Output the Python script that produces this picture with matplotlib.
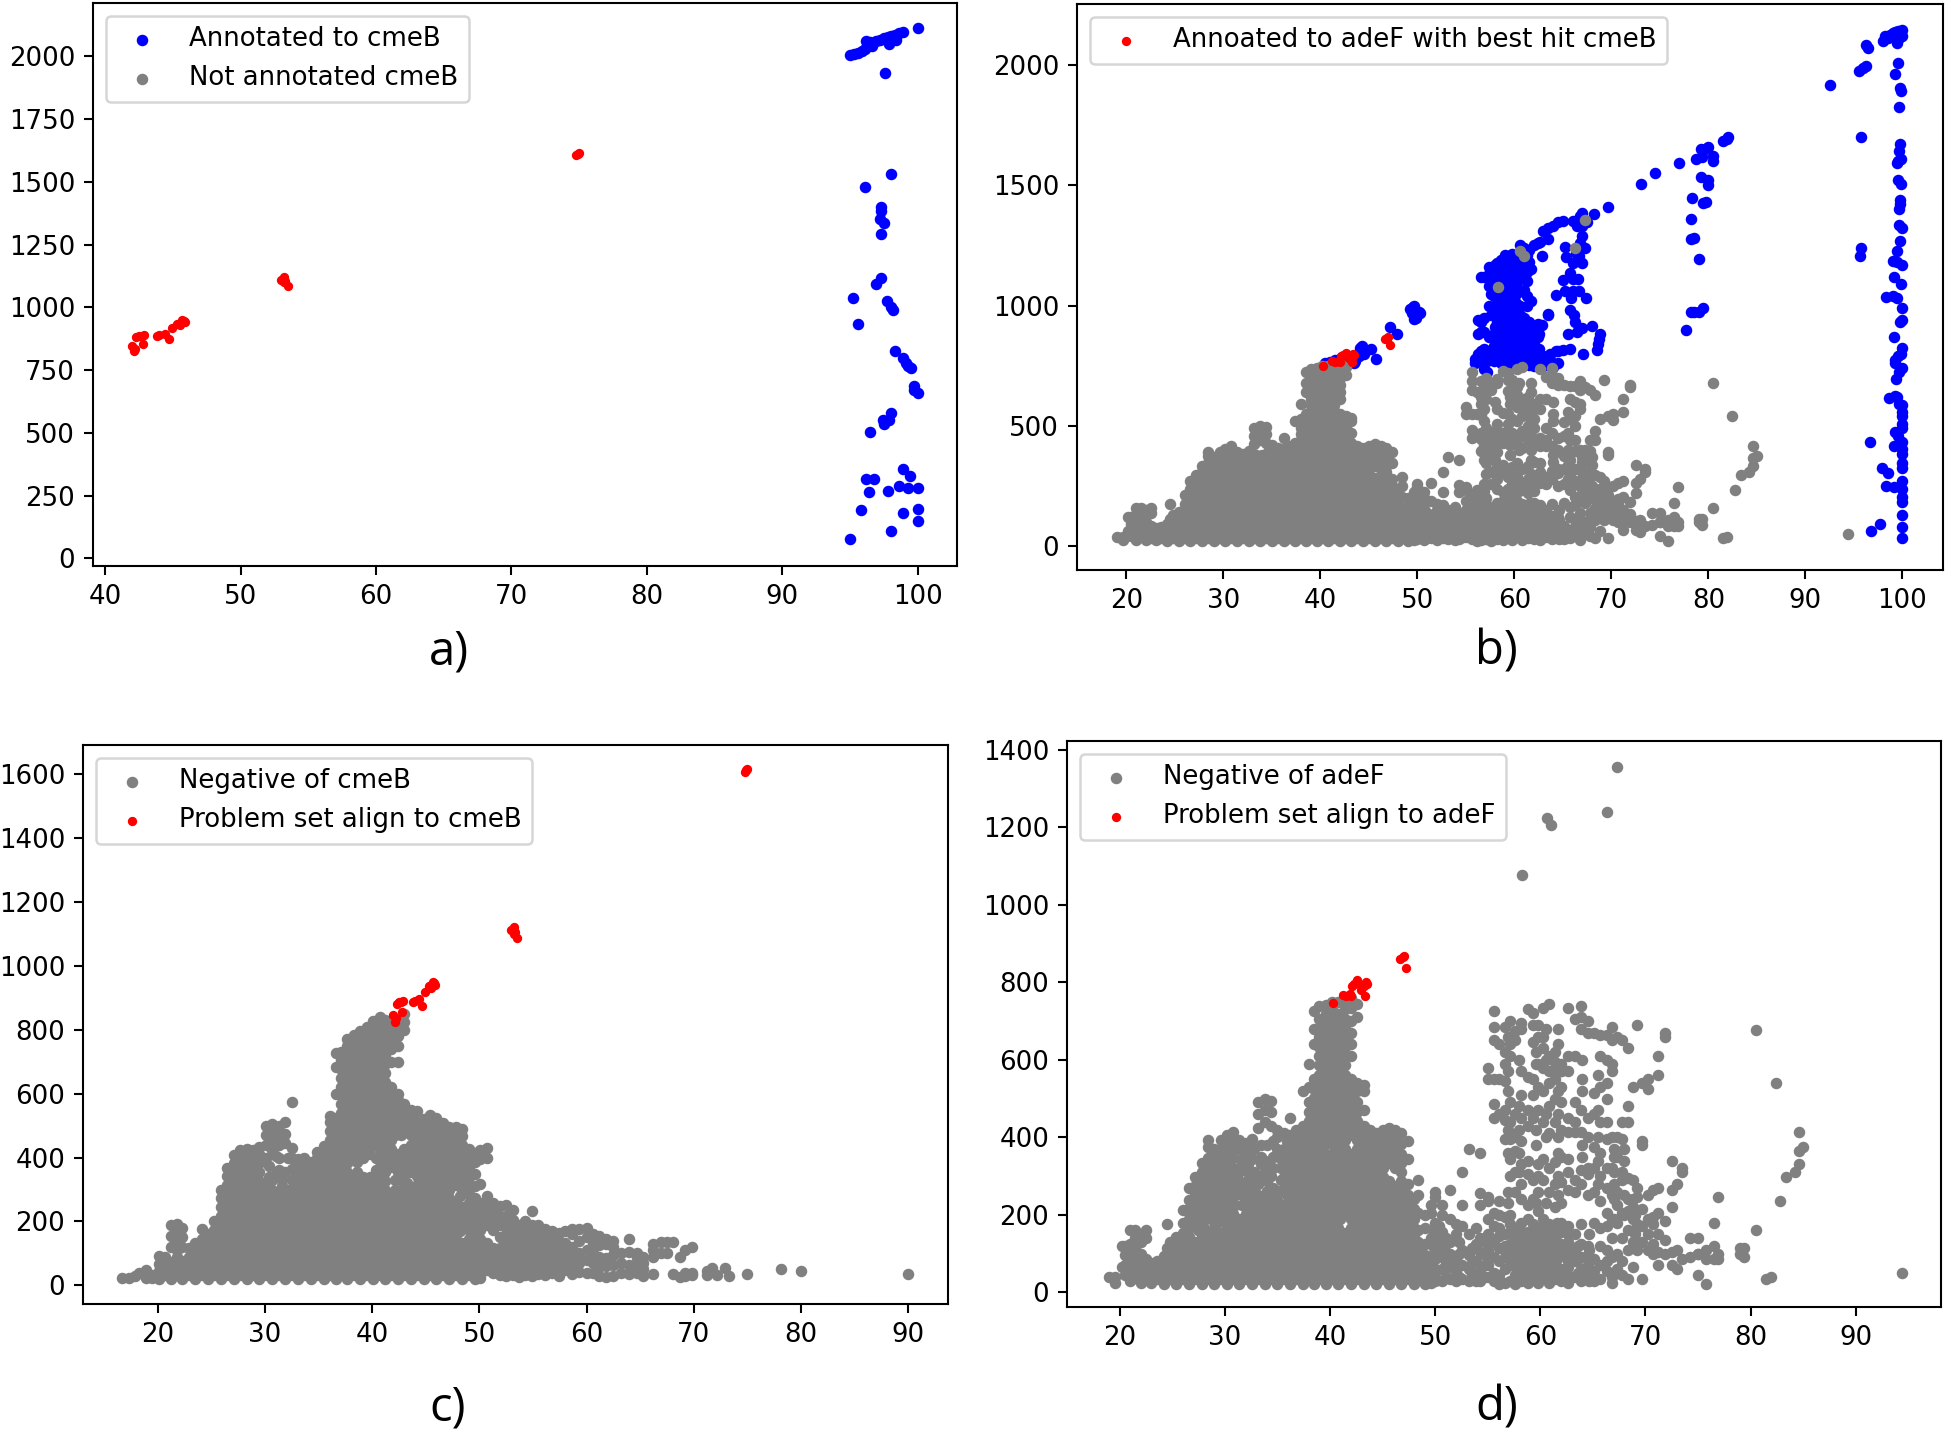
import matplotlib
matplotlib.use("Agg")
import matplotlib.pyplot as plt

# ---------- red points ----------
problem_cmeB_x = [42, 42.1, 42.2, 42.3, 42.5, 42.7, 42.9, 42.8, 43.8, 44, 44.4, 44.7, 44.9, 45.3, 45.5, 45.7, 45.9, 45.8, 53, 53.2, 53.2, 53.3, 53.5, 74.8, 74.9, 75]
problem_cmeB_y = [845, 825, 835, 880, 885, 885, 890, 855, 885, 888, 895, 875, 918, 935, 930, 950, 940, 945, 1110, 1120, 1100, 1105, 1085, 1605, 1612, 1615]
problem_adeF_x = [40.3, 41.2, 41.5, 41.9, 42, 42.1, 42.3, 42.6, 42.8, 43, 43.2, 43.4, 43.5, 43.3, 46.7, 46.9, 47, 47.2]
problem_adeF_y = [747, 768, 766, 770, 765, 790, 795, 805, 795, 780, 790, 800, 795, 765, 860, 865, 868, 838]

# ---------- panel a blue ----------
annot_cmeB_x = [95, 95.3, 95.6, 95.9, 96.1, 96.3, 96.5, 96.2, 96.6, 96.9, 97.2, 97.5, 97.8, 98, 98.3, 98.6, 98.9, 97.9, 98.4, 100, 97.6,
                98, 96.1, 97.3, 97.3, 97.2, 97.5, 97.3, 97.3, 96.9, 95.2, 97.7, 98, 98.2, 95.6, 98.3, 98.9, 99.1, 99.3, 99.5, 99.7, 99.7, 100,
                98, 97.4, 97.5, 97.9, 96.5, 98.9, 99.4, 96.2, 96.8, 98.6, 99.3, 100, 96.4, 97.8, 95.8, 98.9, 100, 100, 98, 95]
annot_cmeB_y = [2003, 2008, 2012, 2020, 2030, 2045, 2055, 2060, 2040, 2060, 2065, 2072, 2078, 2082, 2085, 2092, 2095, 2050, 2065, 2112, 1935,
                1530, 1478, 1400, 1385, 1350, 1337, 1292, 1115, 1092, 1038, 1025, 1000, 988, 933, 825, 797, 778, 768, 760, 685, 670, 660,
                578, 550, 535, 552, 502, 355, 330, 315, 317, 287, 280, 282, 265, 267, 192, 180, 195, 148, 108, 78]

# ---------- panel b blue ----------
blue_right_x = [92.5, 95.5, 96, 96.3, 96.5, 96.3, 98, 98.2, 98.5, 98.7, 99, 99.3, 99.6, 100, 99.5, 99.7, 100, 99.6, 99.3, 99.8, 99.9, 99.7, 95.7,
                99.8, 99.7, 99.9, 99.6, 99.5, 99.6, 99.9, 99.8, 99.8, 99.7, 99.7, 100, 99.8, 99.5, 95.7, 95.6, 99, 99.5, 100, 99.9, 99.1, 98.3, 99, 99.5,
                100, 100, 99.8, 99.1, 100, 99.9, 99.6, 99.2, 99.2, 100, 99.7, 99.4, 98.6, 99.3, 99.5, 99.7, 100, 100, 100, 100, 100, 99.2, 99.6, 100,
                96.7, 99.1, 100, 100, 97.9, 98.5, 100, 100, 98.3, 99.1, 100, 100, 100, 100, 100, 100, 100, 97.7, 96.8]
blue_right_y = [1917, 1975, 1985, 1995, 2070, 2080, 2100, 2120, 2110, 2125, 2130, 2135, 2140, 2145, 2090, 2110, 2120, 2005, 1960, 1905, 1890, 1825, 1700,
                1670, 1640, 1610, 1600, 1590, 1520, 1505, 1440, 1420, 1400, 1335, 1320, 1270, 1225, 1240, 1205, 1185, 1180, 1170, 1090, 1120, 1035, 1040, 1030,
                990, 940, 930, 870, 825, 800, 790, 775, 760, 740, 725, 695, 615, 625, 620, 590, 585, 560, 540, 510, 490, 475, 460, 435,
                435, 415, 405, 385, 325, 305, 345, 325, 250, 245, 270, 240, 205, 185, 130, 80, 35, 95, 65]
blue_80_x = [73.1, 74.5, 77, 78.7, 79.3, 79.2, 79.7, 80, 80.5, 80.5, 81.5, 82, 81.9, 79.2, 80, 80, 78.3, 79.5, 79.8, 78.2, 78.2, 78.5, 79, 78.2, 78.5, 79, 79.5, 77.7]
blue_80_y = [1505, 1550, 1590, 1610, 1615, 1650, 1650, 1660, 1600, 1620, 1685, 1700, 1690, 1535, 1520, 1500, 1445, 1425, 1430, 1360, 1275, 1280, 1195, 975, 975, 975, 990, 900]
blue_66_x = [69.7, 68.2, 67, 66.8, 66, 65, 64.5, 64, 63.5, 63, 67.5, 67, 66.5, 67, 66.8, 67.3, 65.2, 66.4, 65.3, 66.7, 67, 66, 65.7, 65, 66, 66.6, 65.2, 66, 66.7, 65.8, 67.4, 64.3,
             63.5, 65.7, 66.2, 66.3, 68, 66.5, 67, 65.5, 68.8, 68.7, 68.6, 68.5, 67.1, 65.7, 65, 64.3, 62.9, 64, 63.5, 62.9, 62.6]
blue_66_y = [1410, 1380, 1385, 1370, 1350, 1350, 1345, 1330, 1320, 1310, 1345, 1330, 1330, 1290, 1260, 1240, 1245, 1220, 1200, 1205, 1175, 1175, 1135, 1105, 1110, 1110, 1060, 1060, 1060, 1030, 1030, 1045,
             965, 980, 960, 930, 915, 890, 905, 880, 880, 860, 840, 815, 800, 820, 815, 810, 790, 745, 1275, 1205, 1265]
blue_main_columns = [
    (55.9, [760, 780]), (56.2, [770, 800]), (56.6, [810, 790, 1120, 890, 930]), (56.9, [735, 790, 950]),
    (57.2, [725, 770, 800]), (57.6, [960, 1050, 1090, 1150]), (57.9, [770, 800, 830, 880, 1040, 1080, 1140]),
    (58.2, [790, 840, 880, 930, 1100, 1160, 1175]), (58.6, [760, 800, 860, 910, 960, 1020, 1130, 1190]),
    (59, [780, 820, 860, 900, 940, 980, 1020, 1060, 1100, 1140, 1180, 1210]),
    (59.4, [760, 800, 840, 880, 920, 960, 1000, 1040, 1080, 1120, 1160, 1200]),
    (59.8, [780, 820, 860, 900, 940, 980, 1020, 1060, 1100, 1140, 1180, 1215]),
    (60.2, [770, 810, 850, 890, 930, 970, 1010, 1050, 1090, 1130, 1170, 1210]),
    (60.6, [760, 800, 840, 880, 920, 960, 1000, 1060, 1110, 1150, 1190, 1250]),
    (61, [770, 810, 860, 900, 950, 1065, 1130, 1170, 1195, 1240]),
    (61.5, [755, 790, 880, 930, 1180, 1230]), (62, [750, 780, 840, 860, 1250]), (62.4, [755, 870, 925, 1260]),
    (63, [750, 790]), (63.7, [750, 775, 800]),
]
blue_main_extra = [
    (56.3, [880, 940]), (56.9, [820, 890, 1120]), (57.4, [870, 1000, 1080, 1130, 1160]), (58, [910, 960, 1000, 1170]),
    (58.5, [1000, 1060, 1100]), (61.3, [820, 860, 900, 1000, 1040, 1100, 1140, 1210]), (61.7, [840, 920, 1020, 1150]),
    (62.2, [800, 900]), (62.5, [820, 880]), (62.9, [790, 920]), (64.5, [760, 810]), (63.5, [960]),
]
blue_left_x = [40.5, 41, 41.5, 42, 42.5, 43, 43.3, 43.6, 43.9, 44.1, 44.3, 43.5, 44, 44.5, 45.2, 45.7, 47.2, 47.9, 49.2, 49.4, 49.5, 49.7, 49.9, 50.2, 50.3, 49.6, 49.8]
blue_left_y = [760, 765, 775, 780, 775, 765, 780, 770, 800, 825, 830, 760, 790, 800, 820, 780, 910, 880, 985, 970, 995, 1000, 950, 975, 970, 945, 960]

# ---------- grey points, panel c: (x, [y...]) read column by column ----------
neg_cmeB_left = [
    (16.7, [22]), (17.3, [22]), (17.9, [28]), (18.3, [38]), (18.9, [22, 48]), (19.5, [22, 34]),
    (20.1, [20, 46, 68, 92]), (20.7, [32, 60, 90]), (21.3, [20, 48, 74, 120, 155, 188]),
    (21.8, [34, 62, 88, 112, 140, 168, 192]), (22.3, [20, 48, 76, 120, 150, 180]), (22.9, [34, 62, 90, 118]),
    (23.5, [20, 48, 76, 104, 132]), (24.1, [34, 62, 90, 118, 145, 175]), (24.7, [20, 48, 76, 104, 132, 160]),
    (25.3, [34, 62, 90, 118, 146, 174, 200]), (25.9, [20, 48, 76, 104, 132, 160, 188, 216, 244, 272, 300]),
]
neg_cmeB_mid = [
    (26.5, [34, 62, 90, 118, 146, 174, 202, 230, 258, 286, 314, 342, 366]),
    (27.1, [20, 48, 76, 104, 132, 160, 188, 216, 244, 272, 300, 328, 356, 384, 408]),
    (27.7, [34, 62, 90, 118, 146, 174, 202, 230, 258, 286, 314, 342, 370, 398, 422]),
    (28.3, [20, 48, 76, 104, 132, 160, 188, 216, 244, 272, 300, 328, 356, 384, 412, 428]),
    (28.9, [34, 62, 90, 118, 146, 174, 202, 230, 258, 286, 314, 342, 370, 398, 424]),
    (29.5, [20, 48, 76, 104, 132, 160, 188, 216, 244, 272, 300, 328, 356, 384, 412, 434]),
    (30.1, [34, 62, 90, 118, 146, 174, 202, 230, 258, 286, 314, 400, 440, 470, 498]),
    (30.7, [20, 48, 76, 104, 132, 160, 188, 216, 244, 272, 300, 330, 425, 455, 485, 505]),
    (31.3, [34, 62, 90, 118, 146, 174, 202, 230, 258, 286, 360, 400, 440, 470, 500]),
    (31.9, [20, 48, 76, 104, 132, 160, 188, 216, 244, 272, 355, 445, 475, 510]),
    (32.5, [34, 62, 90, 118, 146, 174, 202, 230, 258, 330, 365, 400, 430, 574]),
    (33.1, [20, 48, 76, 104, 132, 160, 188, 216, 244, 310, 340, 370, 395]),
    (33.7, [34, 62, 90, 118, 146, 174, 240, 265, 290, 318, 346, 374, 400]),
    (34.3, [20, 48, 76, 104, 132, 160, 190, 218, 246, 274, 302, 330, 358, 386]),
    (34.9, [34, 62, 90, 118, 146, 195, 225, 258, 286, 314, 342, 370, 398, 418]),
    (35.5, [20, 48, 76, 104, 132, 188, 216, 244, 272, 300, 328, 356, 384, 412, 436]),
    (36.1, [34, 62, 90, 118, 146, 174, 202, 230, 258, 286, 314, 342, 370, 398, 426, 454, 482, 510, 530]),
    (36.6, [20, 48, 76, 104, 132, 160, 188, 216, 244, 272, 300, 328, 356, 384, 412, 440, 468, 496, 524, 600, 684, 727]),
    (37.1, [34, 62, 90, 118, 146, 174, 202, 258, 286, 314, 342, 370, 398, 426, 454, 482, 510, 538, 566, 594, 622, 650, 678, 706, 730]),
    (37.7, [20, 48, 76, 104, 132, 160, 188, 272, 300, 328, 356, 384, 412, 440, 468, 496, 524, 552, 580, 608, 636, 664, 692, 720, 748, 770]),
    (38.3, [34, 62, 90, 118, 146, 174, 202, 230, 258, 286, 314, 342, 426, 454, 482, 510, 538, 566, 594, 622, 650, 678, 706, 734, 762, 782]),
    (38.9, [20, 48, 76, 104, 132, 160, 188, 216, 244, 272, 300, 328, 412, 440, 468, 496, 524, 552, 580, 608, 636, 664, 692, 720, 748, 776, 796]),
    (39.5, [34, 62, 90, 118, 146, 174, 202, 230, 258, 286, 314, 426, 454, 482, 510, 538, 566, 594, 622, 650, 678, 706, 734, 762, 790, 808]),
    (40.1, [20, 48, 76, 104, 132, 160, 188, 216, 244, 272, 300, 328, 440, 468, 496, 524, 552, 580, 608, 636, 664, 692, 720, 748, 776, 804, 826]),
    (40.7, [34, 62, 90, 118, 146, 174, 202, 230, 258, 286, 314, 342, 370, 426, 454, 482, 510, 538, 566, 594, 622, 650, 678, 706, 734, 762, 790, 818, 838]),
    (41.2, [20, 48, 76, 104, 132, 160, 188, 216, 244, 272, 300, 328, 356, 384, 412, 440, 468, 496, 524, 552, 580, 608, 636, 664, 692, 720, 748, 776, 804, 830]),
    (41.8, [34, 62, 90, 118, 146, 174, 202, 230, 258, 286, 370, 398, 426, 454, 482, 510, 538, 566, 594, 622, 700, 740, 770, 800, 822]),
    (42.4, [20, 48, 76, 104, 132, 160, 188, 216, 244, 272, 356, 384, 412, 496, 524, 552, 580, 600, 700, 750, 780, 810]),
    (43, [34, 62, 90, 118, 146, 174, 202, 230, 258, 286, 342, 370, 398, 426, 510, 538, 566, 800, 825, 850]),
    (43.6, [20, 48, 76, 104, 132, 160, 188, 216, 244, 272, 300, 356, 384, 412, 440, 470, 496, 524, 550]),
]
neg_cmeB_right = [
    (44.2, [34, 62, 90, 118, 146, 174, 202, 230, 258, 286, 314, 342, 370, 398, 426, 454, 482, 510, 545]),
    (44.8, [20, 48, 76, 104, 132, 160, 188, 216, 244, 272, 300, 328, 356, 384, 412, 440, 468, 496, 520]),
    (45.4, [34, 62, 90, 118, 146, 174, 202, 230, 258, 286, 314, 342, 370, 398, 426, 454, 482, 510, 532]),
    (46, [20, 48, 76, 104, 132, 160, 188, 216, 244, 272, 300, 328, 356, 384, 412, 440, 468, 496, 524]),
    (46.6, [34, 62, 90, 118, 146, 174, 202, 230, 258, 286, 314, 342, 370, 398, 426, 454, 482, 508]),
    (47.2, [20, 48, 76, 104, 132, 160, 188, 216, 244, 272, 300, 328, 356, 384, 412, 440, 468, 496]),
    (47.8, [34, 62, 90, 118, 146, 174, 202, 230, 258, 314, 342, 370, 398, 426, 454, 482, 496]),
    (48.4, [20, 48, 76, 104, 132, 188, 216, 244, 300, 328, 356, 384, 412, 440, 468, 490]),
    (49, [34, 62, 90, 118, 146, 174, 202, 230, 258, 286, 340, 370, 398, 426]),
    (49.6, [20, 48, 76, 104, 132, 160, 188, 216, 244, 272, 310, 350, 385, 415]),
    (50.1, [22, 34, 48, 62, 90, 118, 146, 174, 202, 230, 258, 318, 395, 425]),
    (50.7, [48, 76, 104, 132, 188, 216, 244, 280, 400, 430]),
    (51.3, [40, 62, 90, 118, 174, 202, 230, 258]),
    (51.9, [34, 62, 90, 118, 150, 188, 216, 250]),
    (52.5, [30, 48, 76, 104, 132, 160, 188, 216, 252]),
    (53.1, [34, 62, 90, 118, 146, 174, 205, 235]),
    (53.7, [25, 48, 76, 104, 132, 160, 188]),
    (54.3, [34, 62, 90, 118, 146, 174, 200]),
    (54.9, [30, 48, 76, 104, 132, 160, 190, 232]),
    (55.5, [36, 62, 90, 118, 146, 174, 190]),
    (56.1, [32, 56, 80, 104, 132, 160, 178]),
    (56.8, [40, 62, 90, 118, 146, 170]),
    (57.4, [30, 60, 85, 110, 140, 165]),
    (58, [48, 76, 104, 132, 170]),
    (58.6, [35, 62, 90, 120, 160, 175]),
    (59.3, [42, 70, 100, 140, 175]),
    (60, [38, 80, 110, 150, 180]),
    (60.6, [38, 70, 100, 130, 160]),
    (61.2, [30, 58, 90, 125, 155]),
    (61.8, [25, 60, 85, 130, 145]),
    (62.5, [30, 65, 95, 120, 140]),
    (63.2, [40, 70, 100]),
    (64, [35, 65, 105, 145]),
    (64.7, [40, 60, 85, 100]),
    (65.3, [30, 50, 70, 90]),
    (66.2, [35, 90, 110, 130]),
    (66.9, [100, 135]), (67.5, [100, 135]), (68.1, [35, 135]), (68.7, [25, 90]), (69.2, [30, 40, 110]),
    (69.8, [32, 40, 120]), (71.2, [32, 45]), (71.7, [55]), (72.2, [32]), (72.9, [55]), (73.3, [28]),
    (75, [35]), (78.1, [53]), (80, [45]), (90, [35]),
]
neg_cmeB_fill = [
    (30.4, [340, 375]), (31, [350, 405]), (31.6, [310, 330]), (32.2, [300, 400]), (32.8, [285, 300]), (33.4, [215, 260, 280]),
    (34, [200, 225]), (34.6, [175, 205]), (35.2, [160, 175, 190, 220]), (35.8, [160, 175]), (37.4, [215, 240, 255]),
    (38, [215, 240, 395]), (38.6, [355, 385]), (39.2, [340, 400]), (39.8, [340, 410]), (40.4, [360, 400]),
    (42.1, [300, 330, 470]), (42.7, [300, 330, 470, 495]), (43.3, [320, 480]), (48.2, [170, 280]), (48.7, [300, 320]),
]

# ---------- grey points, panels b and d ----------
neg_adeF_left = [
    (19, [40]), (19.6, [25, 40]), (20.2, [65, 120]), (20.5, [45, 70, 95, 120]), (21, [28, 50, 75, 100, 125, 160]),
    (21.5, [38, 65, 90, 115, 140, 160]), (22, [25, 50, 75, 100, 130, 150]), (22.5, [35, 60, 85, 160, 140]), (23, [25, 50, 75]),
    (23.6, [35, 58, 82]), (24.2, [22, 46, 70, 94]), (24.5, [115, 175]), (24.8, [34, 58, 82, 106, 130]),
    (25.4, [22, 46, 70, 94, 118, 142]), (26, [34, 58, 82, 106, 130, 154, 178, 212]),
    (26.6, [22, 46, 70, 94, 118, 142, 166, 190, 214, 238, 270]),
    (27.2, [34, 58, 82, 106, 130, 178, 202, 226, 250, 274, 298]),
    (27.8, [22, 46, 70, 94, 118, 142, 190, 214, 238, 262, 286, 310, 334]),
    (28.4, [34, 58, 82, 106, 130, 202, 226, 250, 274, 298, 322, 346, 375, 392]),
    (29, [22, 46, 70, 94, 118, 142, 166, 214, 238, 262, 286, 310, 334, 358, 370]),
    (29.6, [34, 58, 82, 106, 130, 154, 226, 250, 274, 298, 322, 346, 370, 394]),
    (30.2, [22, 46, 70, 94, 118, 142, 166, 190, 214, 262, 286, 310, 334, 358, 382, 406]),
    (30.8, [34, 58, 82, 106, 130, 154, 178, 202, 250, 274, 322, 346, 370, 394, 415]),
    (31.4, [22, 46, 70, 94, 118, 142, 166, 190, 262, 286, 310, 370, 394, 370]),
    (32, [34, 58, 82, 106, 130, 154, 178, 202, 226, 250, 274, 385, 340]),
    (32.6, [22, 46, 70, 94, 118, 142, 166, 190, 214, 238, 262, 286, 345, 395]),
    (33.2, [34, 58, 82, 106, 130, 154, 178, 202, 226, 250, 280, 425, 460, 490]),
    (33.8, [22, 46, 70, 94, 118, 142, 166, 190, 214, 238, 310, 340, 440, 470, 500]),
    (34.4, [34, 58, 82, 106, 130, 154, 178, 202, 226, 250, 300, 430, 465, 495]),
    (35, [22, 46, 70, 94, 118, 142, 166, 190, 214, 238, 262, 370, 420, 400]),
    (35.6, [34, 58, 82, 106, 130, 154, 178, 202, 226, 298, 322, 346, 370, 410]),
    (36.2, [22, 46, 70, 94, 118, 142, 166, 214, 238, 262, 286, 310, 334, 358, 382, 406, 450]),
]
neg_adeF_mid = [
    (36.8, [34, 58, 82, 106, 130, 154, 202, 226, 250, 274, 298, 322, 346, 370, 394, 418]),
    (37.4, [22, 46, 70, 94, 118, 142, 166, 190, 214, 238, 262, 286, 310, 334, 358, 382, 406, 430, 520]),
    (38, [34, 58, 82, 106, 130, 154, 178, 202, 226, 250, 274, 298, 322, 346, 370, 394, 418, 442, 466, 490, 530, 590]),
    (38.5, [22, 46, 70, 94, 118, 142, 190, 214, 238, 262, 286, 310, 334, 358, 382, 406, 430, 454, 478, 502, 526, 550, 640, 680, 725]),
    (39, [34, 58, 82, 106, 130, 154, 178, 202, 226, 250, 274, 298, 322, 346, 370, 394, 418, 442, 466, 490, 514, 538, 562, 586, 610, 634, 658, 682, 706, 738]),
    (39.6, [22, 46, 70, 94, 118, 142, 166, 190, 214, 238, 262, 286, 310, 334, 358, 382, 406, 430, 454, 478, 502, 526, 550, 574, 598, 622, 646, 670, 694, 718, 742]),
    (40.2, [34, 58, 82, 106, 130, 154, 178, 202, 226, 250, 274, 298, 322, 346, 394, 418, 442, 466, 490, 514, 538, 562, 586, 610, 634, 658, 682, 706, 730, 750]),
    (40.8, [22, 46, 70, 94, 118, 142, 166, 214, 238, 262, 286, 310, 334, 358, 406, 430, 454, 478, 502, 526, 550, 574, 598, 622, 646, 670, 694, 718, 748]),
    (41.4, [34, 58, 82, 106, 130, 154, 202, 226, 250, 274, 298, 322, 346, 370, 394, 418, 442, 466, 490, 514, 538, 562, 586, 610, 634, 658, 682, 706, 730, 755]),
    (42, [22, 46, 70, 94, 118, 142, 166, 190, 214, 238, 262, 286, 310, 334, 358, 406, 430, 454, 478, 502, 526, 550, 610, 640, 670, 700, 735, 760]),
    (42.6, [34, 58, 82, 106, 130, 154, 178, 202, 226, 250, 274, 298, 322, 346, 370, 394, 418, 442, 466, 490, 520, 540, 710, 745]),
    (43.2, [22, 46, 70, 94, 118, 142, 166, 190, 214, 238, 262, 286, 310, 334, 358, 382, 406, 430, 470, 520, 535]),
    (43.8, [34, 58, 82, 106, 130, 154, 178, 202, 226, 250, 274, 298, 322, 346, 370, 394, 418]),
    (44.4, [22, 46, 70, 94, 118, 142, 166, 190, 214, 238, 262, 286, 310, 334, 358, 382, 410]),
    (45, [34, 58, 82, 106, 130, 154, 178, 202, 226, 250, 274, 298, 322, 346, 370, 394, 418]),
    (45.6, [22, 46, 70, 94, 118, 142, 166, 190, 214, 238, 262, 286, 334, 358, 382, 406, 425]),
    (46.2, [34, 58, 82, 106, 130, 154, 178, 202, 226, 250, 274, 322, 346, 370, 394, 418]),
    (46.8, [22, 46, 70, 94, 118, 142, 166, 190, 214, 238, 262, 286, 310, 334, 358, 382, 410]),
    (47.4, [34, 58, 82, 106, 130, 154, 178, 202, 226, 250, 280, 345, 390]),
    (48, [22, 46, 70, 94, 118, 142, 166, 190, 214, 240]),
    (48.4, [34, 58, 82, 106, 130, 160, 205, 250, 290]),
]
neg_adeF_tail = [
    (49, [22, 46, 70, 95, 125, 165, 200]), (49.6, [25, 50, 75, 140, 205, 225]),
    (50, [30, 40, 55, 85, 110, 145, 180, 245, 260]), (50.7, [28, 60, 90, 120, 155, 200, 225]),
    (51.4, [35, 65, 100, 130, 190, 265]), (52, [28, 55, 85, 150, 175]), (52.6, [35, 70, 110, 170, 225, 310]),
    (53.2, [30, 60, 95, 150, 370]), (53.9, [28, 50, 80, 125, 165]), (54.3, [30, 55, 105, 140, 255, 225, 360]),
    (55, [40, 70, 110, 150, 190, 235, 245, 550, 580]), (55.6, [30, 50, 90, 130, 170, 205, 450, 485, 550, 650, 685, 725]),
    (56.1, [22, 45, 80, 115, 145, 165, 200, 235, 460, 550, 640]), (56.6, [25, 60, 90, 120, 150, 195, 395, 445, 470, 545, 590, 620, 685]),
    (57.1, [30, 70, 100, 125, 155, 175, 200, 300, 345, 395, 440, 490, 610, 640, 700]),
    (57.6, [22, 45, 85, 110, 135, 160, 260, 310, 365, 400, 460, 650, 675]),
    (58.2, [30, 60, 90, 120, 150, 180, 240, 280, 330, 390, 450, 510, 570, 680, 695]),
    (58.8, [25, 50, 80, 105, 130, 155, 190, 225, 305, 340, 430, 470, 555, 730]),
    (59.3, [35, 70, 100, 125, 150, 175, 240, 290, 450, 510, 550, 645, 690, 720]),
    (59.8, [25, 55, 85, 115, 140, 165, 210, 260, 300, 330, 470, 530, 590, 660, 690]),
    (60.3, [40, 70, 100, 130, 160, 190, 290, 345, 440, 520, 580, 630, 660, 735]),
    (60.8, [25, 60, 90, 120, 150, 175, 260, 320, 410, 480, 540, 570, 610, 745]),
    (61.4, [35, 70, 105, 135, 165, 220, 280, 335, 440, 500, 550, 580, 620, 595]),
    (62, [30, 60, 95, 125, 155, 180, 230, 285, 350, 420, 490, 530, 570, 590, 570]),
    (62.6, [25, 65, 100, 130, 170, 265, 310, 345, 415, 450, 570, 610, 735]),
    (63.3, [40, 80, 110, 150, 260, 290, 415, 440, 490, 610, 705]),
    (63.9, [30, 60, 90, 125, 175, 280, 315, 415, 470, 680, 740, 710]),
    (64.5, [40, 70, 95, 120, 250, 305, 320, 400, 450, 670, 700]),
    (65.1, [30, 55, 85, 180, 260, 320, 375, 460, 515, 670]),
    (65.7, [35, 70, 120, 165, 235, 300, 360, 440, 530, 610, 665]),
    (66.3, [55, 80, 110, 170, 205, 270, 320, 395, 440, 500, 540, 600, 665, 1240]),
    (66.8, [25, 40, 90, 140, 190, 250, 320, 400, 570, 590, 685, 650]),
    (67.3, [60, 100, 180, 225, 260, 350, 400, 660, 1355]),
    (67.8, [45, 80, 140, 205, 290, 310, 395, 440, 650]),
    (68.3, [35, 110, 160, 210, 240, 295, 440, 480, 630]),
    (68.8, [65, 130, 190, 220, 240, 290, 530]),
    (69.2, [110, 175, 245, 270, 690]),
    (69.7, [35, 130, 170, 215, 380, 390, 540]),
    (70.2, [110, 150, 190, 250, 525, 550]),
    (70.7, [100, 125, 175, 195, 265]),
    (71.2, [70, 105, 150, 205, 270, 560, 610]),
    (71.9, [100, 135, 185, 660, 670]),
    (72.5, [70, 105, 220, 340, 265]),
    (73, [60, 110, 280]), (73.5, [85, 320, 310]), (74.2, [90, 140]), (75, [45, 100, 140, 100]), (75.8, [22, 110, 85]),
    (76.5, [85, 120, 180]), (76.9, [100, 245, 85]), (79, [100, 115]), (79.4, [90, 115]), (80.5, [160, 678]),
    (81.5, [35]), (81.9, [40]), (82.4, [540]), (82.8, [235]), (83.4, [298]), (84.2, [310]), (84.6, [332, 365, 415]), (85, [375]),
    (58.3, [1078]), (60.6, [1225]), (61, [1207]), (94.4, [50]),
]
neg_adeF_fill = [
    (27.5, [160, 180]), (28, [166, 190]), (28.7, [150, 190]), (29.3, [180, 205]), (29.9, [185, 210, 240]), (30.5, [226, 250, 300]),
    (31, [225, 250, 300]), (31.6, [225, 250, 330, 345]), (32.2, [290, 310, 330, 360]), (32.8, [310, 370]), (33.4, [300, 330, 350, 380]),
    (34, [262, 286, 330, 380]), (34.6, [270, 320, 350, 390]), (35.3, [262, 290, 320, 345]), (35.9, [250, 275, 390]),
    (36.5, [178, 190]), (37, [178, 190]), (38.7, [166, 178]), (40.5, [370, 382]), (41, [190, 382]),
]
neg_adeF_extra = [
    (57.4, [70, 100, 130, 150]), (58, [45, 75, 105, 135, 165]), (58.6, [40, 70, 100, 115, 145]), (59.6, [70, 100, 130, 160]),
    (60.6, [45, 75, 105, 135, 165]), (61.6, [50, 85, 115, 150, 180]), (62.6, [45, 80, 115, 150]), (63.6, [50, 85, 120]),
    (64.6, [30, 55, 110, 150]), (52.3, [40, 70, 100, 130]), (53.5, [45, 75, 115]), (54.7, [40, 70, 95, 130]), (51, [40, 75, 105, 140]),
    (49.8, [65, 95, 120, 160]), (50.4, [130, 170]), (56.9, [230, 260, 360, 420, 520, 570, 660]), (58, [310, 360, 420, 480, 600]),
    (59.6, [230, 380, 420, 590, 620]), (60.5, [230, 400, 460, 600, 680]), (61.7, [250, 300, 360, 400, 460, 520, 640, 680]),
    (64, [350, 380, 520, 550, 600]), (65.5, [280, 340, 400, 470, 560]), (67, [190, 240, 280, 310, 350, 370]),
    (68, [200, 250, 340, 370]), (69, [150, 160, 200]),
]

LETTERS = ["a)", "b)", "c)", "d)"]
LEGEND_A = ["Annotated to cmeB", "Not annotated cmeB"]
LEGEND_B = ["Annoated to adeF with best hit cmeB"]
LEGEND_C = ["Negative of cmeB", "Problem set align to cmeB"]
LEGEND_D = ["Negative of adeF", "Problem set align to adeF"]


def flatten(*groups):
    xs, ys = [], []
    for group in groups:
        for x, col in group:
            xs.extend([x] * len(col))
            ys.extend(col)
    return xs, ys


plt.rcParams.update({
    "font.family": "DejaVu Sans", "font.size": 18.7,
    "axes.linewidth": 1.5, "xtick.major.size": 6.4, "ytick.major.size": 6.4,
    "xtick.major.width": 1.5, "ytick.major.width": 1.5,
    "xtick.major.pad": 6.4, "ytick.major.pad": 6.4,
    "patch.linewidth": 1.8,
})

W, H = 1946, 1432
fig = plt.figure(figsize=(W / 100, H / 100), dpi=100, facecolor="white")


def make_axes(l, t, r, b, xlim, ylim, xt, yt):
    ax = fig.add_axes([l / W, 1 - b / H, (r - l) / W, (b - t) / H])
    ax.set_xlim(*xlim)
    ax.set_ylim(*ylim)
    ax.set_xticks(xt)
    ax.set_yticks(yt)
    return ax


S_BIG, S_RED = 42, 24

cx, cy = flatten(neg_cmeB_left, neg_cmeB_mid, neg_cmeB_right, neg_cmeB_fill)
dx, dy = flatten(neg_adeF_left, neg_adeF_mid, neg_adeF_tail, neg_adeF_fill, neg_adeF_extra)
bx, by = flatten(blue_main_columns, blue_main_extra)

# a
ax = make_axes(93, 3, 957, 566, (39.1, 102.9), (-30, 2212), range(40, 101, 10), range(0, 2001, 250))
ax.scatter(annot_cmeB_x, annot_cmeB_y, s=S_BIG, c="blue", label=LEGEND_A[0])
ax.scatter([], [], s=S_BIG, c="gray", label=LEGEND_A[1])
ax.scatter(problem_cmeB_x, problem_cmeB_y, s=S_RED, c="red")
ax.legend(loc="upper left")

# b
ax = make_axes(1077, 4, 1943, 570, (14.9, 104.2), (-98, 2252), range(20, 101, 10), range(0, 2001, 500))
ax.scatter(blue_right_x + blue_80_x + blue_66_x + blue_left_x + bx,
           blue_right_y + blue_80_y + blue_66_y + blue_left_y + by, s=S_BIG, c="blue")
ax.scatter(dx, dy, s=S_BIG, c="gray")
ax.scatter(problem_adeF_x, problem_adeF_y, s=S_RED, c="red", label=LEGEND_B[0])
ax.legend(loc="upper left")

# c
ax = make_axes(83, 745, 948, 1304, (13.05, 93.7), (-58, 1690), range(20, 91, 10), range(0, 1601, 200))
ax.scatter(cx, cy, s=S_BIG, c="gray", label=LEGEND_C[0])
ax.scatter(problem_cmeB_x, problem_cmeB_y, s=S_RED, c="red", label=LEGEND_C[1])
ax.legend(loc="upper left")

# d
ax = make_axes(1067, 741, 1941, 1307, (15.0, 98.1), (-38, 1423), range(20, 91, 10), range(0, 1401, 200))
ax.scatter(dx, dy, s=S_BIG, c="gray", label=LEGEND_D[0])
ax.scatter(problem_adeF_x, problem_adeF_y, s=S_RED, c="red", label=LEGEND_D[1])
ax.legend(loc="upper left")

for label, (px, py) in zip(LETTERS, [(449, 652), (1496, 652), (448, 1408), (1497, 1408)]):
    fig.text(px / W, 1 - py / H, label, family="Open Sans", fontsize=34, ha="center", va="center")

fig.savefig("out.png", dpi=100)
